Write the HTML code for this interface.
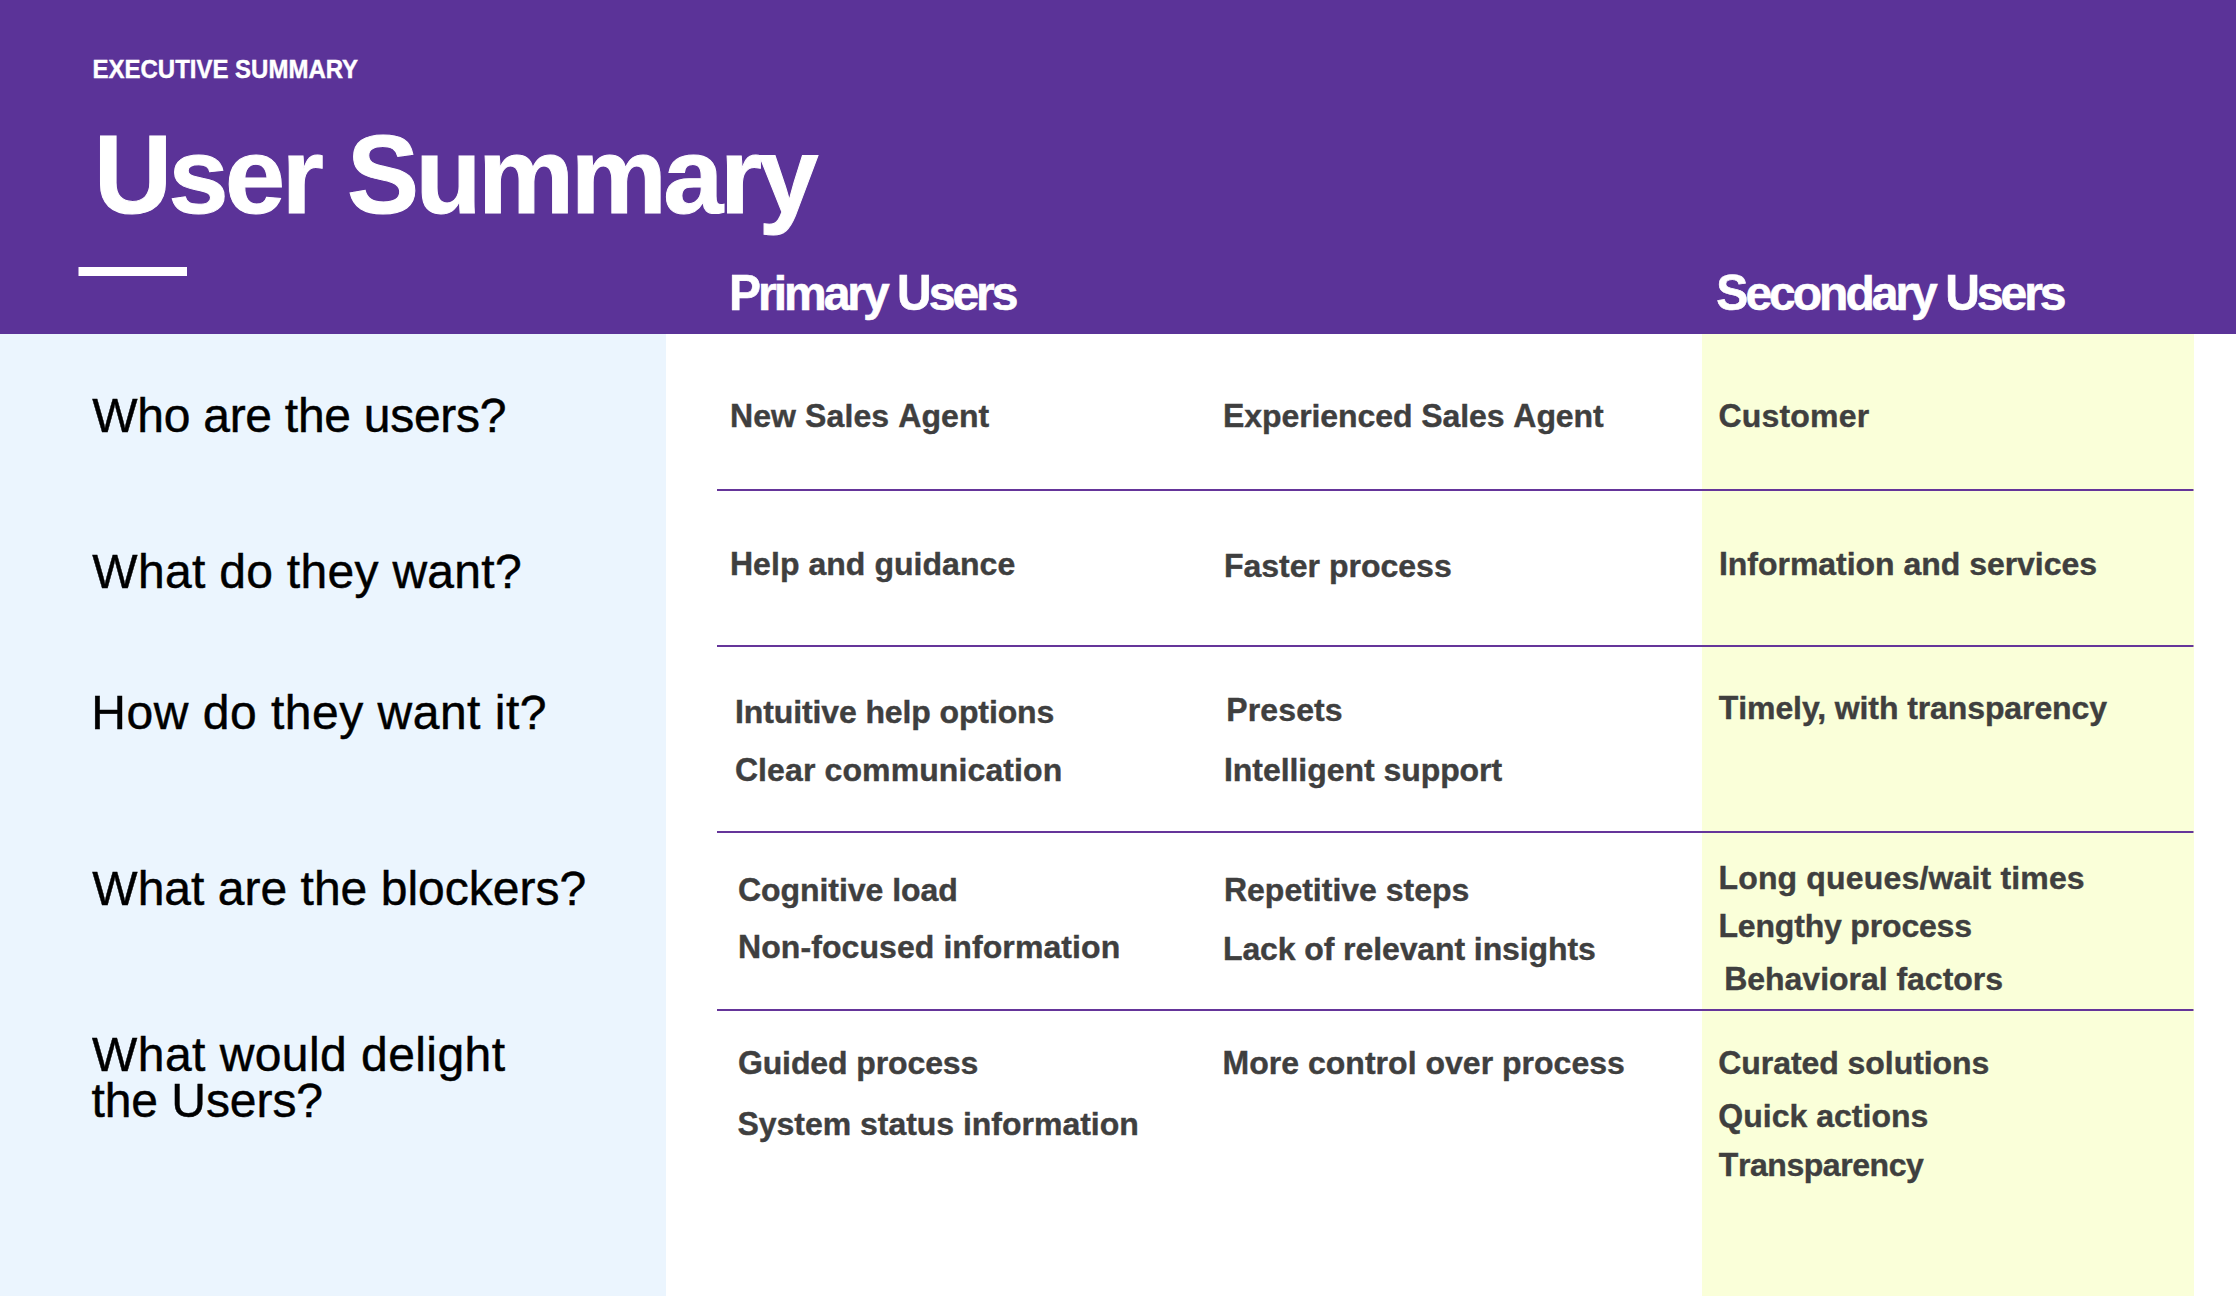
<!DOCTYPE html>
<html lang="en"><head><meta charset="utf-8"><title>User Summary</title>
<style>
html,body{margin:0;padding:0}
body{width:2236px;height:1296px;position:relative;overflow:hidden;background:#fff;font-family:"Liberation Sans",sans-serif}
.hd{position:absolute;left:0;top:0;width:2236px;height:334px;background:#5b3398}
.side{position:absolute;left:0;top:334px;width:666px;height:962px;background:#ebf5fe}
.sec{position:absolute;left:1702px;top:334px;width:492px;height:962px;background:#faffd9}
.bar{position:absolute;left:78px;top:267px;width:109px;height:9px;background:linear-gradient(to right,rgba(255,255,255,.5) 1px,#fff 1px)}
.ln{position:absolute;left:717px;width:1477px;height:2px;background:linear-gradient(to left,rgba(101,53,154,.5) 1px,#65359a 1px)}
.t{position:absolute;white-space:nowrap;line-height:normal;margin:0}
.k{display:inline-block;line-height:1;transform-origin:50% 84.65%}
.hdr{font-size:24px;font-weight:700;color:#fff;-webkit-text-stroke:0.4px #fff}
.hdr .k{transform:scaleY(1.04)}
.title{font-size:108px;font-weight:700;color:#fff;-webkit-text-stroke:1.0px #fff}
.title .k{transform:scaleY(1.03)}
.colhdr{font-size:48px;font-weight:700;color:#fff;-webkit-text-stroke:0.6px #fff}
.colhdr .k{transform:scaleY(1.035)}
.q{font-size:48px;font-weight:400;color:#000;-webkit-text-stroke:0.45px #000}
.q .k{transform:scaleY(1.02)}
.c{font-size:32px;font-weight:700;color:#3f3f3f;-webkit-text-stroke:0.4px #3f3f3f}
.c .k{transform:scaleY(1.03)}
</style></head><body>
<div class="hd"></div><div class="side"></div><div class="sec"></div><div class="bar"></div>
<div class="ln" style="top:489px"></div><div class="ln" style="top:645px"></div><div class="ln" style="top:831px"></div><div class="ln" style="top:1009px"></div>
<div class="t hdr" style="left:92.58px;top:56.00px;letter-spacing:-0.016px;transform:scaleY(1.04);transform-origin:0 22.00px">EXECUTIVE SUMMARY</div>
<div class="t title" style="left:93.90px;top:112.81px;letter-spacing:-3.429px"><span class="k">U</span>ser <span class="k">S</span>ummary</div>
<div class="t colhdr" style="left:729.05px;top:266.01px;letter-spacing:-3.016px"><span class="k">P</span>rimary <span class="k">U</span>sers</div>
<div class="t colhdr" style="left:1716.37px;top:266.01px;letter-spacing:-3.001px"><span class="k">S</span>econdary <span class="k">U</span>sers</div>
<div class="t q" style="left:92.30px;top:388.01px;letter-spacing:-0.275px"><span class="k">W</span>ho are the users?</div>
<div class="t q" style="left:92.30px;top:544.01px;letter-spacing:0.302px"><span class="k">W</span>hat do they want?</div>
<div class="t q" style="left:91.37px;top:685.01px;letter-spacing:0.503px"><span class="k">H</span>ow do they want it?</div>
<div class="t q" style="left:92.30px;top:861.01px;letter-spacing:0.018px"><span class="k">W</span>hat are the blockers?</div>
<div class="t q" style="left:92.09px;top:1027.01px;letter-spacing:0.436px"><span class="k">W</span>hat would delight</div>
<div class="t q" style="left:91.38px;top:1073.01px;letter-spacing:-0.048px">the <span class="k">U</span>sers?</div>
<div class="t c" style="left:729.96px;top:398.01px;letter-spacing:0.098px"><span class="k">N</span>ew <span class="k">S</span>ales <span class="k">A</span>gent</div>
<div class="t c" style="left:729.96px;top:546.01px;letter-spacing:0.046px"><span class="k">H</span>elp and guidance</div>
<div class="t c" style="left:734.96px;top:694.01px;letter-spacing:-0.114px"><span class="k">I</span>ntuitive help options</div>
<div class="t c" style="left:734.88px;top:752.01px;letter-spacing:0.112px"><span class="k">C</span>lear communication</div>
<div class="t c" style="left:737.88px;top:872.01px;letter-spacing:-0.039px"><span class="k">C</span>ognitive load</div>
<div class="t c" style="left:737.96px;top:929.01px;letter-spacing:0.082px"><span class="k">N</span>on-focused information</div>
<div class="t c" style="left:737.88px;top:1045.01px;letter-spacing:-0.108px"><span class="k">G</span>uided process</div>
<div class="t c" style="left:737.40px;top:1106.01px;letter-spacing:-0.021px"><span class="k">S</span>ystem status information</div>
<div class="t c" style="left:1222.96px;top:398.01px;letter-spacing:-0.076px"><span class="k">E</span>xperienced <span class="k">S</span>ales <span class="k">A</span>gent</div>
<div class="t c" style="left:1223.96px;top:548.01px;letter-spacing:0.003px"><span class="k">F</span>aster process</div>
<div class="t c" style="left:1226.29px;top:692.01px;letter-spacing:0.124px"><span class="k">P</span>resets</div>
<div class="t c" style="left:1223.96px;top:752.01px;letter-spacing:-0.048px"><span class="k">I</span>ntelligent support</div>
<div class="t c" style="left:1223.96px;top:872.01px;letter-spacing:-0.004px"><span class="k">R</span>epetitive steps</div>
<div class="t c" style="left:1222.96px;top:931.01px;letter-spacing:-0.098px"><span class="k">L</span>ack of relevant insights</div>
<div class="t c" style="left:1222.55px;top:1045.01px;letter-spacing:0.016px"><span class="k">M</span>ore control over process</div>
<div class="t c" style="left:1718.43px;top:398.01px;letter-spacing:0.186px"><span class="k">C</span>ustomer</div>
<div class="t c" style="left:1718.96px;top:546.01px;letter-spacing:-0.031px"><span class="k">I</span>nformation and services</div>
<div class="t c" style="left:1718.81px;top:690.01px;letter-spacing:-0.099px"><span class="k">T</span>imely, with transparency</div>
<div class="t c" style="left:1718.46px;top:860.01px;letter-spacing:0.165px"><span class="k">L</span>ong queues/wait times</div>
<div class="t c" style="left:1718.46px;top:908.01px;letter-spacing:-0.178px"><span class="k">L</span>engthy process</div>
<div class="t c" style="left:1724.21px;top:961.01px;letter-spacing:-0.025px"><span class="k">B</span>ehavioral factors</div>
<div class="t c" style="left:1718.32px;top:1045.01px;letter-spacing:-0.063px"><span class="k">C</span>urated solutions</div>
<div class="t c" style="left:1718.26px;top:1098.01px;letter-spacing:0.018px"><span class="k">Q</span>uick actions</div>
<div class="t c" style="left:1718.81px;top:1147.01px;letter-spacing:-0.441px"><span class="k">T</span>ransparency</div>
</body></html>
